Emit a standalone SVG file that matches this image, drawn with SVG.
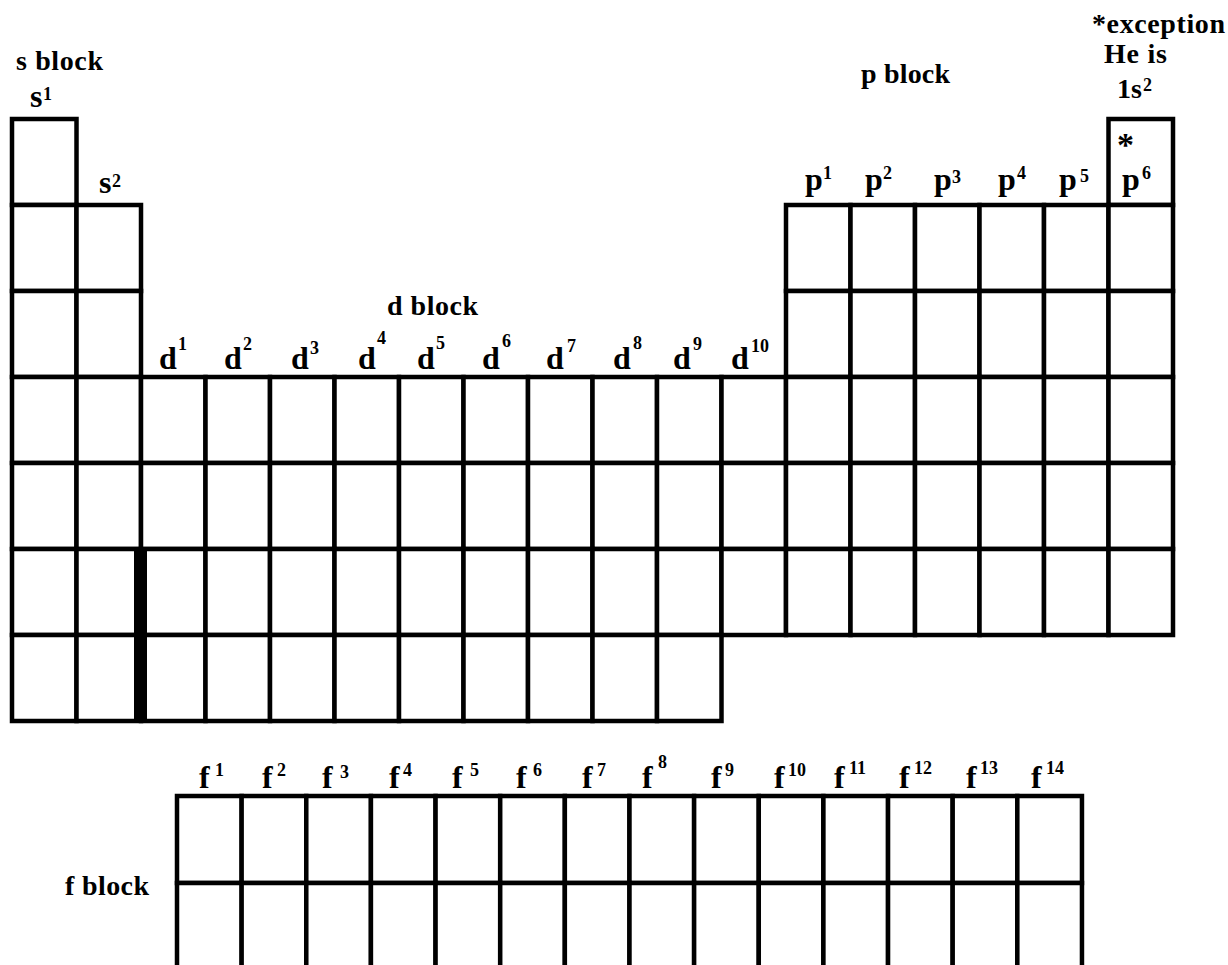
<svg xmlns="http://www.w3.org/2000/svg" width="1228" height="965" viewBox="0 0 1228 965">
<style>
.c{fill:#fff;stroke:#000;stroke-width:4.5}
.t{font-family:"Liberation Serif","Times New Roman",serif;font-weight:bold;fill:#000;font-size:28px}
.l{font-size:32px}
.u{font-size:18px}
</style>
<rect width="1228" height="965" fill="#fff"/>
<g id="s-block">
<rect class="c" x="12" y="119" width="64.5" height="86"/>
<rect class="c" x="12" y="205" width="64.5" height="86"/>
<rect class="c" x="12" y="291" width="64.5" height="86"/>
<rect class="c" x="12" y="377" width="64.5" height="86"/>
<rect class="c" x="12" y="463" width="64.5" height="86"/>
<rect class="c" x="12" y="549" width="64.5" height="86"/>
<rect class="c" x="12" y="635" width="64.5" height="86"/>
<rect class="c" x="76.5" y="205" width="64.5" height="86"/>
<rect class="c" x="76.5" y="291" width="64.5" height="86"/>
<rect class="c" x="76.5" y="377" width="64.5" height="86"/>
<rect class="c" x="76.5" y="463" width="64.5" height="86"/>
<rect class="c" x="76.5" y="549" width="64.5" height="86"/>
<rect class="c" x="76.5" y="635" width="64.5" height="86"/>
</g>
<g id="d-block">
<rect class="c" x="141" y="377" width="64.5" height="86"/><rect class="c" x="205.5" y="377" width="64.5" height="86"/><rect class="c" x="270" y="377" width="64.5" height="86"/><rect class="c" x="334.5" y="377" width="64.5" height="86"/><rect class="c" x="399" y="377" width="64.5" height="86"/><rect class="c" x="463.5" y="377" width="64.5" height="86"/><rect class="c" x="528" y="377" width="64.5" height="86"/><rect class="c" x="592.5" y="377" width="64.5" height="86"/><rect class="c" x="657" y="377" width="64.5" height="86"/><rect class="c" x="721.5" y="377" width="64.5" height="86"/>
<rect class="c" x="141" y="463" width="64.5" height="86"/><rect class="c" x="205.5" y="463" width="64.5" height="86"/><rect class="c" x="270" y="463" width="64.5" height="86"/><rect class="c" x="334.5" y="463" width="64.5" height="86"/><rect class="c" x="399" y="463" width="64.5" height="86"/><rect class="c" x="463.5" y="463" width="64.5" height="86"/><rect class="c" x="528" y="463" width="64.5" height="86"/><rect class="c" x="592.5" y="463" width="64.5" height="86"/><rect class="c" x="657" y="463" width="64.5" height="86"/><rect class="c" x="721.5" y="463" width="64.5" height="86"/>
<rect class="c" x="141" y="549" width="64.5" height="86"/><rect class="c" x="205.5" y="549" width="64.5" height="86"/><rect class="c" x="270" y="549" width="64.5" height="86"/><rect class="c" x="334.5" y="549" width="64.5" height="86"/><rect class="c" x="399" y="549" width="64.5" height="86"/><rect class="c" x="463.5" y="549" width="64.5" height="86"/><rect class="c" x="528" y="549" width="64.5" height="86"/><rect class="c" x="592.5" y="549" width="64.5" height="86"/><rect class="c" x="657" y="549" width="64.5" height="86"/><rect class="c" x="721.5" y="549" width="64.5" height="86"/>
<rect class="c" x="141" y="635" width="64.5" height="86"/><rect class="c" x="205.5" y="635" width="64.5" height="86"/><rect class="c" x="270" y="635" width="64.5" height="86"/><rect class="c" x="334.5" y="635" width="64.5" height="86"/><rect class="c" x="399" y="635" width="64.5" height="86"/><rect class="c" x="463.5" y="635" width="64.5" height="86"/><rect class="c" x="528" y="635" width="64.5" height="86"/><rect class="c" x="592.5" y="635" width="64.5" height="86"/><rect class="c" x="657" y="635" width="64.5" height="86"/>
<rect x="134" y="547" width="13" height="176" fill="#000"/>
</g>
<g id="p-block">
<rect class="c" x="1108.5" y="119" width="64.5" height="86"/>
<rect class="c" x="786" y="205" width="64.5" height="86"/><rect class="c" x="850.5" y="205" width="64.5" height="86"/><rect class="c" x="915" y="205" width="64.5" height="86"/><rect class="c" x="979.5" y="205" width="64.5" height="86"/><rect class="c" x="1044" y="205" width="64.5" height="86"/><rect class="c" x="1108.5" y="205" width="64.5" height="86"/>
<rect class="c" x="786" y="291" width="64.5" height="86"/><rect class="c" x="850.5" y="291" width="64.5" height="86"/><rect class="c" x="915" y="291" width="64.5" height="86"/><rect class="c" x="979.5" y="291" width="64.5" height="86"/><rect class="c" x="1044" y="291" width="64.5" height="86"/><rect class="c" x="1108.5" y="291" width="64.5" height="86"/>
<rect class="c" x="786" y="377" width="64.5" height="86"/><rect class="c" x="850.5" y="377" width="64.5" height="86"/><rect class="c" x="915" y="377" width="64.5" height="86"/><rect class="c" x="979.5" y="377" width="64.5" height="86"/><rect class="c" x="1044" y="377" width="64.5" height="86"/><rect class="c" x="1108.5" y="377" width="64.5" height="86"/>
<rect class="c" x="786" y="463" width="64.5" height="86"/><rect class="c" x="850.5" y="463" width="64.5" height="86"/><rect class="c" x="915" y="463" width="64.5" height="86"/><rect class="c" x="979.5" y="463" width="64.5" height="86"/><rect class="c" x="1044" y="463" width="64.5" height="86"/><rect class="c" x="1108.5" y="463" width="64.5" height="86"/>
<rect class="c" x="786" y="549" width="64.5" height="86"/><rect class="c" x="850.5" y="549" width="64.5" height="86"/><rect class="c" x="915" y="549" width="64.5" height="86"/><rect class="c" x="979.5" y="549" width="64.5" height="86"/><rect class="c" x="1044" y="549" width="64.5" height="86"/><rect class="c" x="1108.5" y="549" width="64.5" height="86"/>
</g>
<g id="f-block">
<rect class="c" x="177" y="796" width="64.64" height="87"/><rect class="c" x="241.64" y="796" width="64.64" height="87"/><rect class="c" x="306.28" y="796" width="64.64" height="87"/><rect class="c" x="370.92" y="796" width="64.64" height="87"/><rect class="c" x="435.56" y="796" width="64.64" height="87"/><rect class="c" x="500.2" y="796" width="64.64" height="87"/><rect class="c" x="564.84" y="796" width="64.64" height="87"/><rect class="c" x="629.48" y="796" width="64.64" height="87"/><rect class="c" x="694.12" y="796" width="64.64" height="87"/><rect class="c" x="758.76" y="796" width="64.64" height="87"/><rect class="c" x="823.4" y="796" width="64.64" height="87"/><rect class="c" x="888.04" y="796" width="64.64" height="87"/><rect class="c" x="952.68" y="796" width="64.64" height="87"/><rect class="c" x="1017.32" y="796" width="64.64" height="87"/>
<rect class="c" x="177" y="883" width="64.64" height="90"/><rect class="c" x="241.64" y="883" width="64.64" height="90"/><rect class="c" x="306.28" y="883" width="64.64" height="90"/><rect class="c" x="370.92" y="883" width="64.64" height="90"/><rect class="c" x="435.56" y="883" width="64.64" height="90"/><rect class="c" x="500.2" y="883" width="64.64" height="90"/><rect class="c" x="564.84" y="883" width="64.64" height="90"/><rect class="c" x="629.48" y="883" width="64.64" height="90"/><rect class="c" x="694.12" y="883" width="64.64" height="90"/><rect class="c" x="758.76" y="883" width="64.64" height="90"/><rect class="c" x="823.4" y="883" width="64.64" height="90"/><rect class="c" x="888.04" y="883" width="64.64" height="90"/><rect class="c" x="952.68" y="883" width="64.64" height="90"/><rect class="c" x="1017.32" y="883" width="64.64" height="90"/>
</g>
<g id="connectors"></g>
<g id="labels" class="t" font-family="'Liberation Serif', 'Times New Roman', serif" font-weight="bold">
<text x="16" y="70" textLength="87">s block</text>
<text x="861" y="83" textLength="89">p block</text>
<text x="387" y="315" textLength="91">d block</text>
<text x="65" y="895" textLength="84">f block</text>
<text x="1092" y="33" textLength="133">*exception</text>
<text x="1104" y="63" textLength="63">He is</text>
<text x="1117" y="98">1s</text><text class="u" x="1143" y="91">2</text>
<text x="1117" y="156" style="font-size:34px">*</text>
<text class="l" x="30" y="107">s</text><text class="u" x="43" y="100">1</text>
<text class="l" x="99" y="193">s</text><text class="u" x="112" y="187">2</text>
<g id="p-labels">
<text class="l" x="805" y="190">p</text><text class="u" x="823" y="179">1</text>
<text class="l" x="865" y="190">p</text><text class="u" x="883" y="179">2</text>
<text class="l" x="934" y="190">p</text><text class="u" x="952" y="183">3</text>
<text class="l" x="998" y="190">p</text><text class="u" x="1017" y="179">4</text>
<text class="l" x="1059" y="190">p</text><text class="u" x="1080" y="182">5</text>
<text class="l" x="1122" y="190">p</text><text class="u" x="1142" y="179">6</text>
</g>
<g id="d-labels">
<text class="l" x="159" y="369">d</text><text class="u" x="178" y="350">1</text>
<text class="l" x="224" y="369">d</text><text class="u" x="243" y="350">2</text>
<text class="l" x="291" y="369">d</text><text class="u" x="310" y="354">3</text>
<text class="l" x="358" y="369">d</text><text class="u" x="377" y="344">4</text>
<text class="l" x="417" y="369">d</text><text class="u" x="436" y="349">5</text>
<text class="l" x="482" y="369">d</text><text class="u" x="502" y="347">6</text>
<text class="l" x="546" y="369">d</text><text class="u" x="567" y="352">7</text>
<text class="l" x="613" y="369">d</text><text class="u" x="633" y="349">8</text>
<text class="l" x="673" y="369">d</text><text class="u" x="693" y="350">9</text>
<text class="l" x="731" y="369">d</text><text class="u" x="751" y="352">10</text>
</g>
<g id="f-labels">
<text class="l" x="199" y="788">f</text><text class="u" x="215" y="776">1</text>
<text class="l" x="262" y="788">f</text><text class="u" x="277" y="776">2</text>
<text class="l" x="322" y="788">f</text><text class="u" x="340" y="778">3</text>
<text class="l" x="389" y="788">f</text><text class="u" x="403" y="776">4</text>
<text class="l" x="452" y="788">f</text><text class="u" x="470" y="776">5</text>
<text class="l" x="516" y="788">f</text><text class="u" x="533" y="776">6</text>
<text class="l" x="582" y="788">f</text><text class="u" x="597" y="776">7</text>
<text class="l" x="642" y="788">f</text><text class="u" x="658" y="768">8</text>
<text class="l" x="711" y="788">f</text><text class="u" x="725" y="776">9</text>
<text class="l" x="774" y="788">f</text><text class="u" x="788" y="776">10</text>
<text class="l" x="834" y="788">f</text><text class="u" x="849" y="774">11</text>
<text class="l" x="899" y="788">f</text><text class="u" x="914" y="774">12</text>
<text class="l" x="966" y="788">f</text><text class="u" x="980" y="774">13</text>
<text class="l" x="1031" y="788">f</text><text class="u" x="1046" y="774">14</text>
</g>
</g>
</svg>
